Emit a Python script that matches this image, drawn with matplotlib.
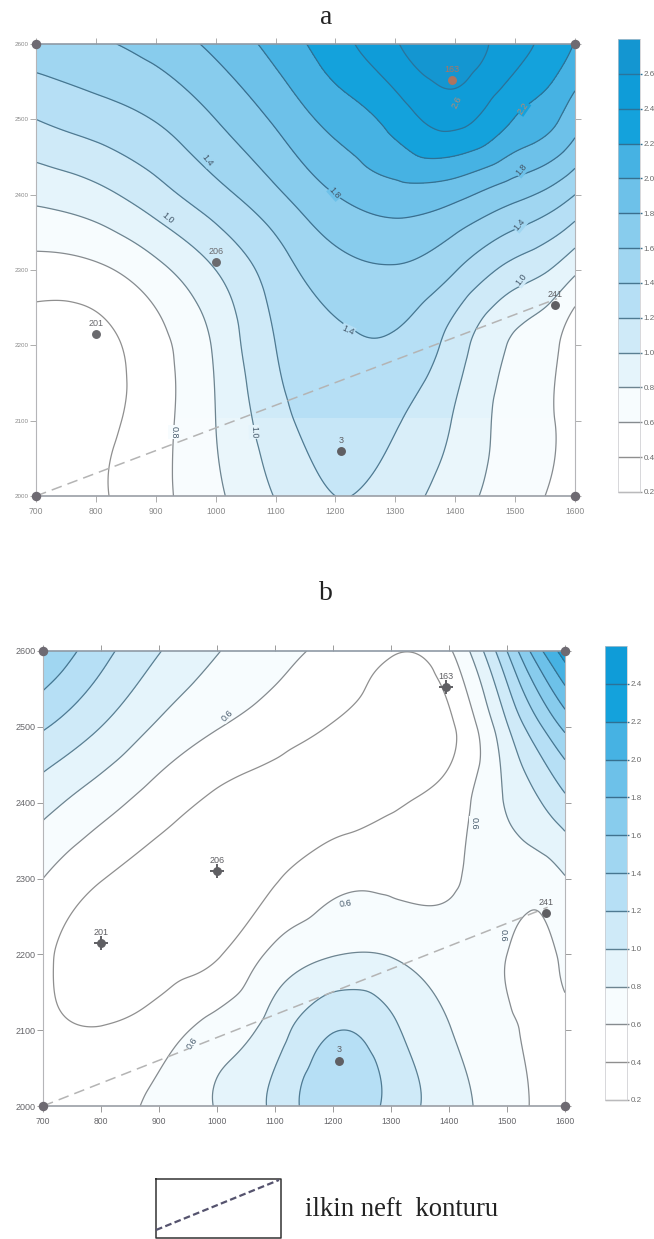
import numpy as np
import matplotlib
matplotlib.use('Agg')
import matplotlib.tri as mtri
from matplotlib import pyplot as plt

W, H = 654, 1239

x_ticks = [700, 800, 900, 1000, 1100, 1200, 1300, 1400, 1500, 1600]
x_nodes = [700, 800, 900, 1000, 1100, 1200, 1300, 1400, 1500, 1550, 1600]
y_nodes = [2600, 2500, 2400, 2300, 2200, 2100, 2000]

a_2600 = [1.52, 1.57, 1.68, 1.85, 2.07, 2.32, 2.58, 2.72, 2.47, 2.36, 2.19]
a_2500 = [1.20, 1.30, 1.41, 1.60, 1.83, 2.07, 2.28, 2.46, 2.19, 2.08, 1.88]
a_2400 = [0.85, 0.94, 1.12, 1.33, 1.56, 1.80, 1.92, 1.86, 1.66, 1.56, 1.40]
a_2300 = [0.52, 0.56, 0.74, 1.00, 1.30, 1.52, 1.58, 1.41, 1.12, 1.02, 0.84]
a_2200 = [0.30, 0.33, 0.53, 0.83, 1.20, 1.36, 1.37, 1.10, 0.77, 0.68, 0.47]
a_2100 = [0.30, 0.34, 0.52, 0.80, 1.12, 1.29, 1.22, 0.98, 0.72, 0.64, 0.50]
a_2000 = [0.30, 0.37, 0.54, 0.76, 1.01, 1.20, 1.10, 0.89, 0.68, 0.60, 0.50]

b_2600 = [1.60, 1.27, 1.01, 0.81, 0.67, 0.54, 0.42, 0.57, 1.40, 1.90, 2.30]
b_2500 = [1.22, 1.00, 0.77, 0.61, 0.50, 0.39, 0.30, 0.36, 0.98, 1.33, 1.65]
b_2400 = [0.87, 0.68, 0.50, 0.36, 0.30, 0.30, 0.38, 0.49, 0.82, 0.97, 1.15]
b_2300 = [0.60, 0.41, 0.30, 0.27, 0.38, 0.54, 0.55, 0.57, 0.68, 0.69, 0.79]
b_2200 = [0.45, 0.28, 0.30, 0.38, 0.65, 0.79, 0.79, 0.70, 0.60, 0.53, 0.66]
b_2100 = [0.43, 0.41, 0.50, 0.68, 0.90, 1.19, 1.05, 0.81, 0.63, 0.57, 0.54]
b_2000 = [0.42, 0.50, 0.66, 0.81, 1.05, 1.33, 1.14, 0.89, 0.68, 0.58, 0.53]

levels = [0.2, 0.4, 0.6, 0.8, 1.0, 1.2, 1.4, 1.6, 1.8, 2.0, 2.2, 2.4, 2.6, 2.8]
band_colors = ['#ffffff', '#ffffff', '#f7fcfe', '#e5f4fb', '#cfeaf8', '#b6dff5',
               '#a0d6f1', '#88cced', '#6dc1e9', '#46b2e3', '#14a2dc', '#0f9cd8', '#1496d1']

well_names = ['201', '206', '163', '241', '3']
well_x = [800, 1000, 1395, 1567, 1210]
well_y = [2215, 2310, 2552, 2254, 2060]
corner_x = [700, 700, 1600, 1600]
corner_y = [2000, 2600, 2000, 2600]

oil_x = [700, 1570]
oil_y = [2000, 2262]

a_labels = [('1.4', 985, 2446, -52), ('1.0', 920, 2369, -40), ('1.8', 1199, 2402, -48),
            ('1.4', 1221, 2220, -25), ('0.8', 930, 2085, -90), ('1.0', 1064, 2085, -88),
            ('1.0', 1511, 2287, 52), ('1.4', 1508, 2360, 50), ('1.8', 1511, 2433, 50),
            ('2.2', 1513, 2515, 55), ('2.6', 1403, 2523, 65)]
b_labels = [('0.6', 1017, 2515, 45), ('0.6', 1222, 2267, 8), ('0.6', 957, 2083, 55),
            ('0.6', 1443, 2373, -90), ('0.6', 1493, 2225, -90)]

a_bar_ticks = [0.2, 0.4, 0.6, 0.8, 1.0, 1.2, 1.4, 1.6, 1.8, 2.0, 2.2, 2.4, 2.6]
b_bar_ticks = [0.2, 0.4, 0.6, 0.8, 1.0, 1.2, 1.4, 1.6, 1.8, 2.0, 2.2, 2.4]

line_colors = ['#9a9a9a', '#8f8f8f', '#868b8f', '#6d8490', '#5a7f92', '#4f7a92', '#467690',
               '#40728f', '#3a6e8e', '#36708f', '#2f7093', '#2c7298', '#2a749c', '#2a749c']


def px_axes(fig, left, top, right, bottom):
    return fig.add_axes([left / W, 1 - bottom / H, (right - left) / W, (bottom - top) / H])


def smooth_field(rows):
    xx, yy = np.meshgrid(x_nodes, y_nodes)
    z = np.array(rows)
    tri = mtri.Triangulation(xx.ravel(), yy.ravel())
    interp = mtri.CubicTriInterpolator(tri, z.ravel(), kind='min_E')
    gx, gy = np.meshgrid(np.linspace(700, 1600, 361), np.linspace(2000, 2600, 241))
    gz = np.ma.filled(interp(gx, gy), np.nan)
    return gx, gy, gz


def draw_map(ax, rows, labels, well_marks, well_colors, tick_color, label_color, ysize):
    gx, gy, gz = smooth_field(rows)
    ax.contourf(gx, gy, np.clip(gz, 0.21, 2.79), levels=levels, colors=band_colors)
    ax.contour(gx, gy, gz, levels=levels[1:], colors=line_colors[1:], linewidths=0.9)
    ax.plot(oil_x, oil_y, color='#b4b4b4', lw=1.1, dashes=(7, 4))

    for text, x, y, rot in labels:
        j = np.abs(gx[0] - x).argmin()
        i = np.abs(gy[:, 0] - y).argmin()
        band = np.searchsorted(levels, gz[i, j]) - 1
        faded = text in ('2.2', '2.6')
        ax.text(x, y, text, rotation=rot, ha='center', va='center', fontsize=6.5,
                color='#b98a70' if faded else '#44586a', rotation_mode='anchor',
                bbox=dict(facecolor=band_colors[band], edgecolor='none', pad=0.6))

    ax.plot(corner_x, corner_y, 'o', color='#6e6a72', ms=5.8, clip_on=False, zorder=5)
    for name, x, y, mark, col in zip(well_names, well_x, well_y, well_marks, well_colors):
        ax.plot(x, y, 'o', color=col, ms=5.4, zorder=5)
        if mark:
            ax.plot(x, y, '+', color=col, ms=10, mew=1.4, zorder=5)
        ax.text(x, y + 8, name, ha='center', va='bottom', fontsize=6.5, color=col)

    ax.set_xlim(700, 1600)
    ax.set_ylim(2000, 2600)
    ax.set_xticks(x_ticks)
    ax.set_yticks(y_nodes)
    ax.tick_params(axis='x', top=True, bottom=True, length=4, width=0.6, color=tick_color,
                   labelsize=6.2, labelcolor=label_color, pad=4)
    ax.tick_params(axis='y', left=True, right=True, length=4, width=0.6, color=tick_color,
                   labelsize=ysize, labelcolor=label_color, pad=1)
    for name, spine in ax.spines.items():
        spine.set_color('#b5b5b8')
        spine.set_linewidth(0.8)
    ax.spines['top'].set_color('#8f9aa5')
    ax.spines['top'].set_linewidth(1.2)
    ax.spines['bottom'].set_color('#9a9ea5')
    ax.spines['bottom'].set_linewidth(1.2)


def draw_bar(ax, top_level, ticks):
    n = levels.index(top_level)
    ax.barh(levels[:n], [1] * n, height=0.2, align='edge', color=band_colors[:n])
    ax.hlines(levels[:n], 0, 1.08, colors=line_colors[:n], lw=1.0, clip_on=False)
    ax.set_xlim(0, 1)
    ax.set_ylim(levels[0], top_level)
    ax.set_xticks([])
    ax.set_yticks(ticks)
    ax.set_yticklabels(['%.1f' % t for t in ticks])
    ax.yaxis.tick_right()
    ax.tick_params(axis='y', length=0, labelsize=5.8, labelcolor='#6a6a6a', pad=2.5)
    for spine in ax.spines.values():
        spine.set_color('#c8c8cc')
        spine.set_linewidth(0.5)


plt.rcParams['font.family'] = ['Liberation Sans', 'DejaVu Sans']
fig = plt.figure(figsize=(W / 100, H / 100), dpi=100)

ax_a = px_axes(fig, 36, 44, 575, 496)
draw_map(ax_a, [a_2600, a_2500, a_2400, a_2300, a_2200, a_2100, a_2000], a_labels,
         [False] * 5, ['#6a6a6e', '#6a6a6e', '#ae7460', '#5f5f63', '#5f5f63'],
         '#a0a0a0', '#8a8a8a', 4.5)
# scan artefact: the lower strip of the printed map is paler
ax_a.axhspan(2000, 2103, facecolor='white', edgecolor='none', alpha=0.22, zorder=1.5)
ax_b = px_axes(fig, 43, 651, 565, 1106)
draw_map(ax_b, [b_2600, b_2500, b_2400, b_2300, b_2200, b_2100, b_2000], b_labels,
         [True, True, True, False, False], ['#5f5f63'] * 5, '#8c8c8c', '#66666a', 6.5)

draw_bar(px_axes(fig, 618, 39, 640, 492), 2.8, a_bar_ticks)
draw_bar(px_axes(fig, 605, 646, 627, 1100), 2.6, b_bar_ticks)

fig.text(326 / W, 1 - 18 / H, 'a', family='Liberation Serif', fontsize=20, ha='center', va='center',
         color='#222222')
fig.text(326 / W, 1 - 594 / H, 'b', family='Liberation Serif', fontsize=20, ha='center', va='center',
         color='#222222')

ax_key = fig.add_axes([0, 0, 1, 1], facecolor='none')
ax_key.set_xlim(0, W)
ax_key.set_ylim(H, 0)
ax_key.axis('off')
ax_key.plot([156, 281, 281, 156, 156], [1179, 1179, 1238, 1238, 1179], color='#333333', lw=1.1)
ax_key.plot([156, 279], [1230, 1180], color='#55536e', lw=1.6, dashes=(3, 1.5))
ax_key.text(305, 1209, 'ilkin neft  konturu', family='Liberation Serif', fontsize=19.2,
            va='center', color='#222222')

fig.savefig('out.png', dpi=100)
